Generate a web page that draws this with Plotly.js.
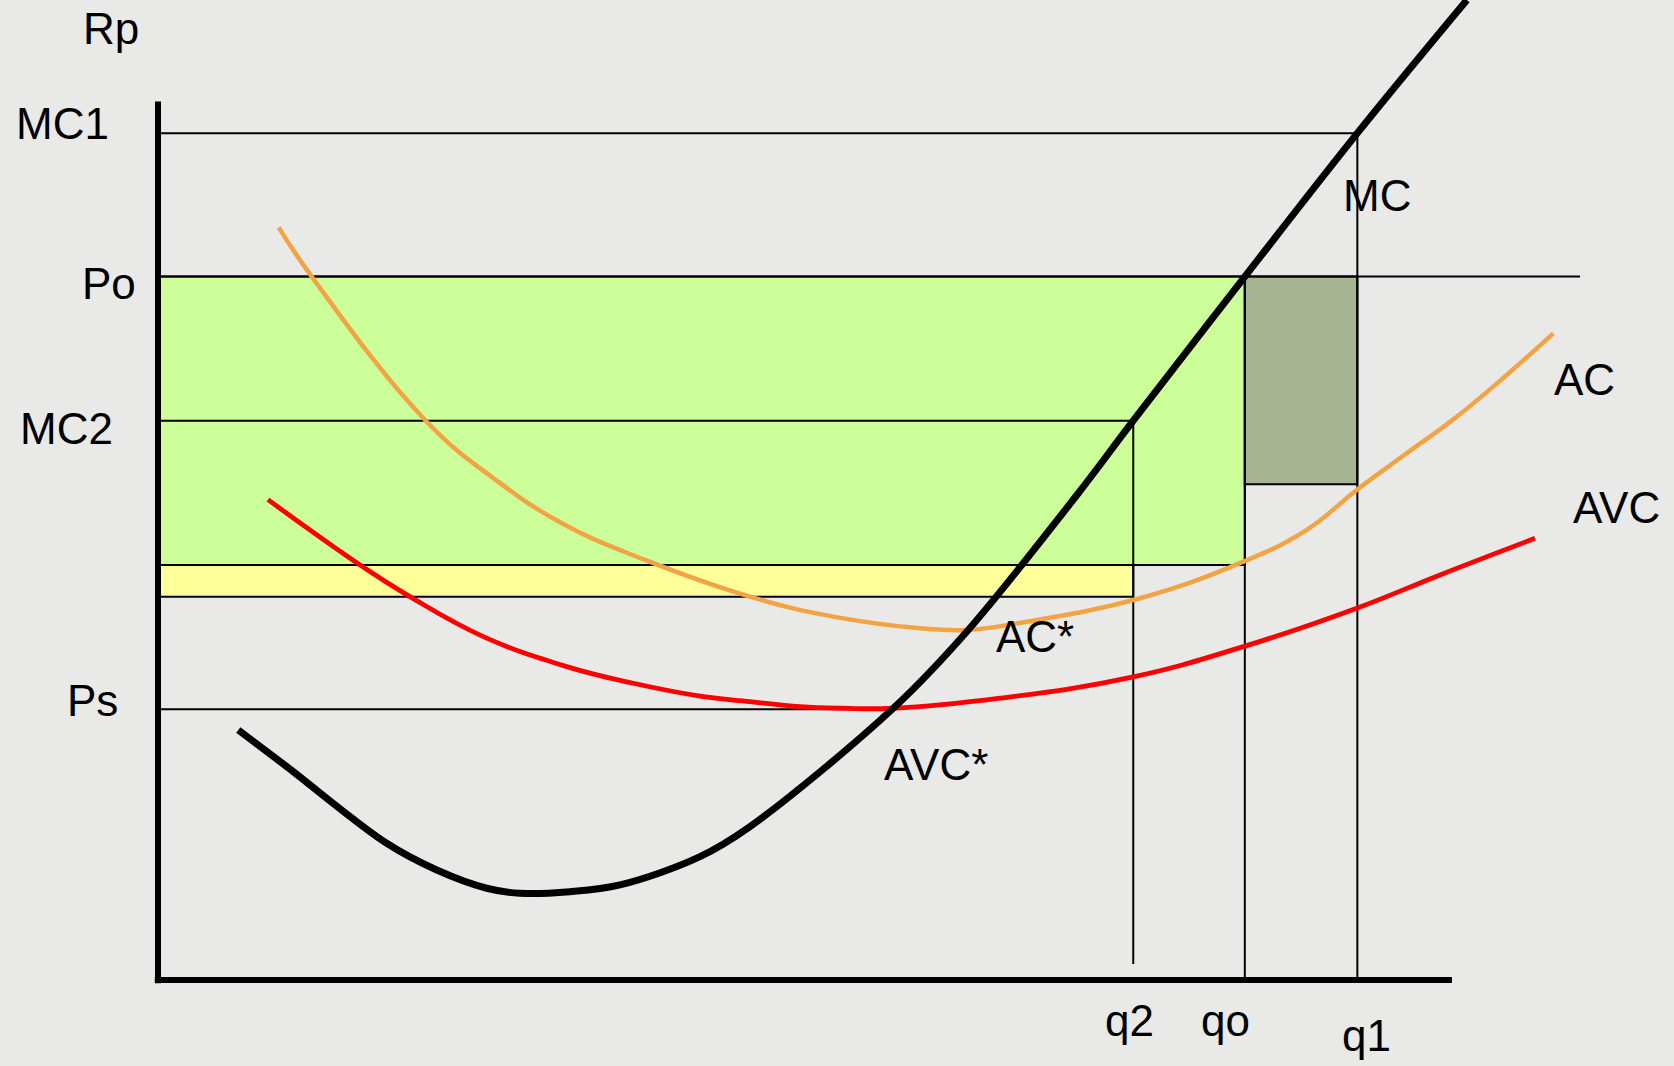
<!DOCTYPE html>
<html>
<head>
<meta charset="utf-8">
<script src="https://cdn.plot.ly/plotly-3.0.1.min.js"></script>
<style>
  html, body { margin: 0; padding: 0; background: #e9e9e8; }
  #chart { width: 1674px; height: 1066px; }
</style>
</head>
<body>
<div id="chart"></div>
<script>
// ---- Data (quantity on x, price / cost on y) ----
const mcQ  = [0.752, 1.206, 2.142, 2.611, 3.079, 3.391, 3.859, 4.327, 5.077, 5.545, 6.887, 7.575, 8.62, 9.135, 10.18, 11.234, 12.26];
const mcP  = [2.343, 1.999, 1.281, 1.031, 0.860, 0.813, 0.828, 0.891, 1.156, 1.437, 2.546, 3.263, 4.56, 5.24, 6.589, 7.933, 9.18];

const acQ  = [1.13, 1.44, 2.517, 3.17, 3.80, 4.55, 5.545, 6.325, 7.137, 7.575, 8.10, 9.198, 10.166, 10.760, 11.228, 11.696, 12.165, 12.633, 13.070];
const acP  = [7.05, 6.589, 5.230, 4.68, 4.27, 3.94, 3.591, 3.404, 3.295, 3.279, 3.35, 3.576, 3.919, 4.216, 4.591, 4.934, 5.277, 5.668, 6.058];

const avcQ = [1.03, 1.892, 2.360, 3.047, 3.828, 4.452, 5.077, 5.545, 6.013, 6.419, 6.887, 7.887, 9.135, 10.166, 11.228, 12.008, 12.898];
const avcP = [4.50, 3.888, 3.591, 3.217, 2.936, 2.780, 2.66, 2.608, 2.561, 2.546, 2.546, 2.640, 2.84, 3.123, 3.483, 3.795, 4.138];

// key quantities and prices
const qLabels = ["q2", "qo", "q1"];
const qValues = [9.135, 10.18, 11.234];
const pLabels = ["MC1", "Po", "MC2", "Ps"];
const pValues = [7.933, 6.589, 5.24, 2.537];
const acAtQo = 3.888;   // top of yellow band
const acAtQ2 = 3.591;   // bottom of yellow band
const acAtQ1 = 4.644;   // bottom of dark rectangle
const axisQmax = 12.12, axisPmax = 8.23;
const poLineEnd = 13.32, psLineEnd = 6.43, q2LineBottom = 0.151;

const [q2, qo, q1] = qValues;
const [MC1, Po, MC2, Ps] = pValues;

const thin = {color: "#000", width: 2};
function hline(y, x0, x1) { return {type: "line", xref: "x", yref: "y", x0: x0, x1: x1, y0: y, y1: y, line: thin, layer: "below"}; }
function vline(x, y0, y1) { return {type: "line", xref: "x", yref: "y", x0: x, x1: x, y0: y0, y1: y1, line: thin, layer: "below"}; }

const shapes = [
  {type: "rect", xref: "x", yref: "y", x0: 0, x1: qo, y0: acAtQo, y1: Po, fillcolor: "#ccff99", line: thin, layer: "below"},
  {type: "rect", xref: "x", yref: "y", x0: 0, x1: q2, y0: acAtQ2, y1: acAtQo, fillcolor: "#ffff99", line: thin, layer: "below"},
  {type: "rect", xref: "x", yref: "y", x0: qo, x1: q1, y0: acAtQ1, y1: Po, fillcolor: "#a6b492", line: thin, layer: "below"},
  hline(MC1, 0, q1),
  hline(Po, 0, poLineEnd),
  hline(MC2, 0, q2),
  hline(Ps, 0, psLineEnd),
  vline(q2, q2LineBottom, MC2),
  vline(qo, 0, Po),
  vline(q1, 0, MC1),
  {type: "line", xref: "x", yref: "y", x0: 0, x1: 0, y0: -0.03, y1: axisPmax, line: {color: "#000", width: 6}, layer: "above"},
  {type: "line", xref: "x", yref: "y", x0: -0.03, x1: axisQmax, y0: 0, y1: 0, line: {color: "#000", width: 6}, layer: "above"}
];

const traces = [
  {x: avcQ, y: avcP, type: "scatter", mode: "lines", name: "AVC", line: {color: "#ff0000", width: 4.8, shape: "spline", smoothing: 1.2}},
  {x: acQ, y: acP, type: "scatter", mode: "lines", name: "AC", line: {color: "#f2a444", width: 4.5, shape: "spline", smoothing: 1.2}},
  {x: mcQ, y: mcP, type: "scatter", mode: "lines", name: "MC", line: {color: "#000000", width: 7, shape: "spline", smoothing: 1}}
];

const F = {family: "Liberation Sans, Arial, Helvetica, sans-serif", size: 44, color: "#000"};
function lab(text, x, y) { return {text: text, x: x, y: y, xref: "x", yref: "y", showarrow: false, xanchor: "center", yanchor: "middle", font: F}; }

const annotations = [
  lab("Rp", -0.44, 8.909),
  lab(pLabels[0], -0.89, 8.023),
  lab(pLabels[1], -0.46, 6.527),
  lab(pLabels[2], -0.856, 5.166),
  lab(pLabels[3], -0.61, 2.62),
  lab("MC", 11.42, 7.35),
  lab("AC", 13.36, 5.63),
  lab("AVC", 13.66, 4.43),
  lab("AC*", 8.21, 3.22),
  lab("AVC*", 7.29, 2.02),
  lab(qLabels[0], 9.10, -0.375),
  lab(qLabels[1], 10.0, -0.375),
  lab(qLabels[2], 11.32, -0.515)
];

const layout = {
  width: 1674, height: 1066,
  margin: {l: 0, r: 0, t: 0, b: 0, pad: 0},
  paper_bgcolor: "#e9e9e8",
  plot_bgcolor: "rgba(0,0,0,0)",
  showlegend: false,
  xaxis: {range: [-1.480, 14.200], visible: false, fixedrange: true},
  yaxis: {range: [-0.805, 9.180], visible: false, fixedrange: true},
  shapes: shapes,
  annotations: annotations
};

Plotly.newPlot("chart", traces, layout, {displayModeBar: false, staticPlot: true});
</script>
</body>
</html>
